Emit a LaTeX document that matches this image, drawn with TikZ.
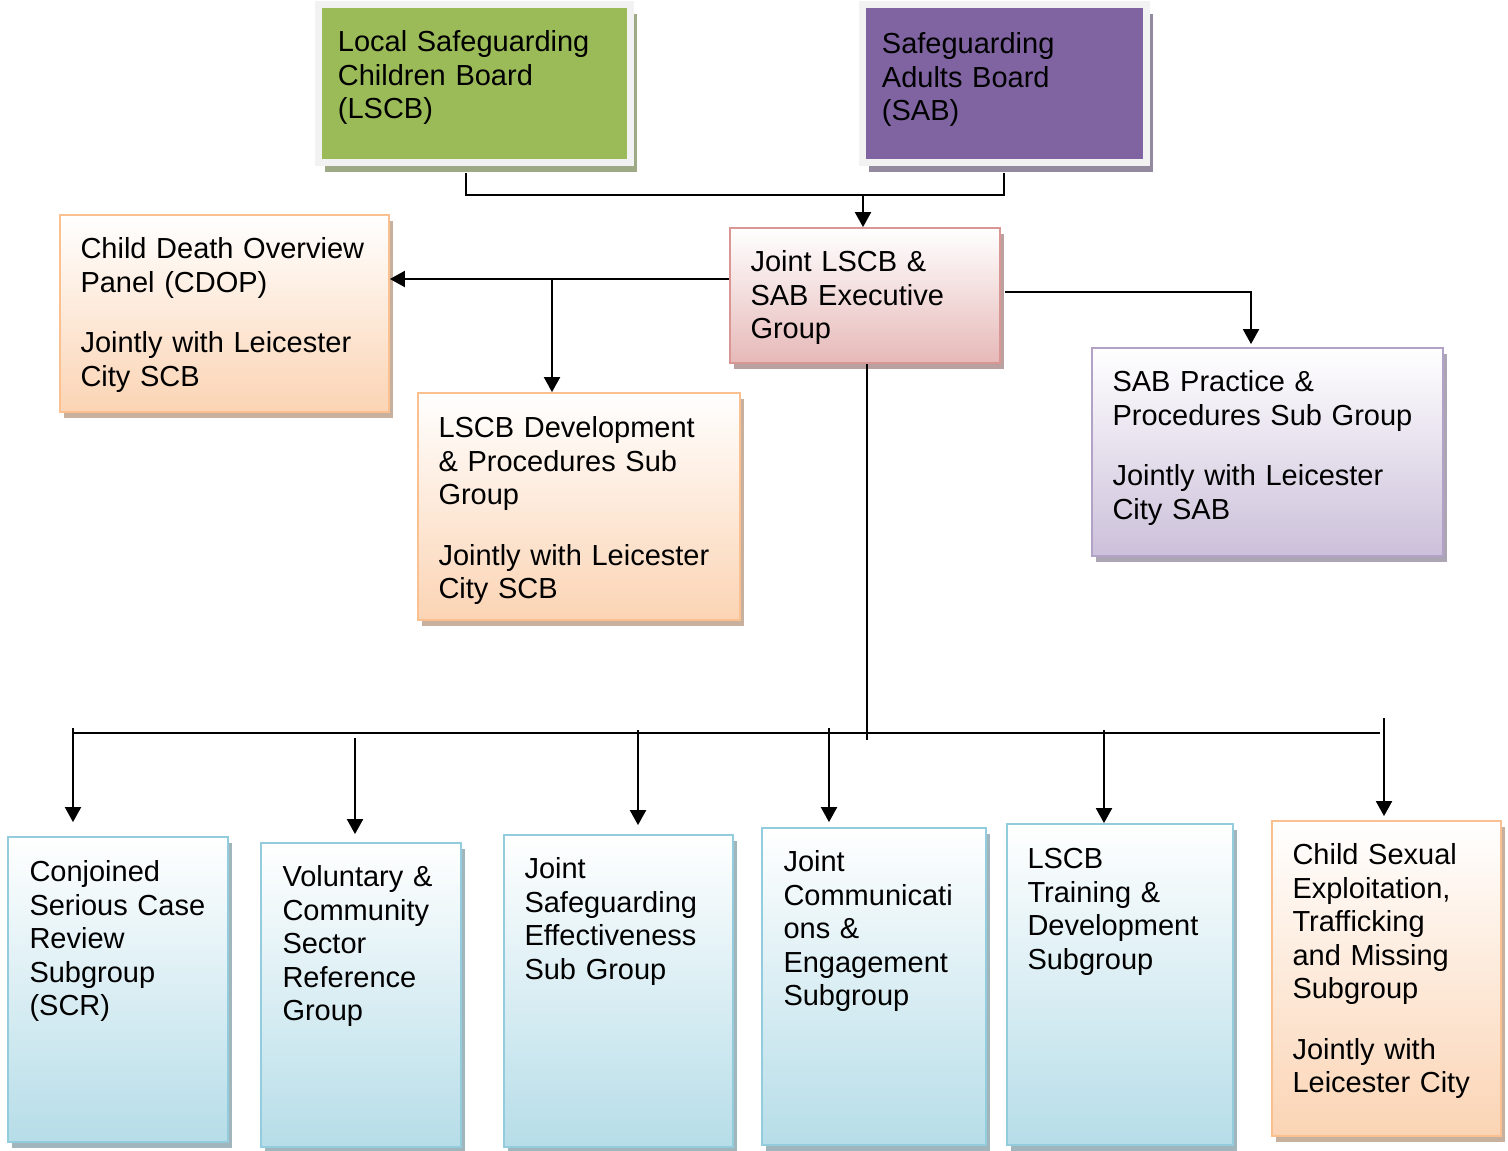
\documentclass[tikz,border=0pt]{standalone}
\usepackage{fontspec}
\setmainfont{Liberation Sans}
\usetikzlibrary{arrows.meta,fit,shadows}

\definecolor{boardgreen}{HTML}{9BBB59}
\definecolor{boardpurple}{HTML}{8064A2}
\definecolor{boardframe}{HTML}{F2F2F2}
\definecolor{pinkline}{HTML}{D99694}
\definecolor{pinkfill}{HTML}{E6B9B8}
\definecolor{peachline}{HTML}{FAC090}
\definecolor{peachfill}{HTML}{FBD4B4}
\definecolor{lilacline}{HTML}{B3A2C7}
\definecolor{lilacfill}{HTML}{CCC0DA}
\definecolor{aqualine}{HTML}{93CDDD}
\definecolor{aquafill}{HTML}{B6DDE8}

\tikzset{
  box/.style={inner sep=0pt, line width=0.9pt, draw=#1,
    general shadow={shadow xshift=2pt, shadow yshift=-3pt, fill=#1!65!black, opacity=0.6}},
  board/.style={inner sep=0pt, draw=boardframe, line width=3.5pt, fill=#1,
    general shadow={shadow xshift=3.5pt, shadow yshift=-4.5pt, fill=#1!60!black, opacity=0.6}},
  pinkbox/.style={box=pinkline, top color=white, bottom color=pinkfill},
  peachbox/.style={box=peachline, top color=white, bottom color=peachfill},
  lilacbox/.style={box=lilacline, top color=white, bottom color=lilacfill},
  aquabox/.style={box=aqualine, top color=white, bottom color=aquafill},
  txt/.style={anchor=north west, align=left, text width=200pt, inner ysep=0pt,
    inner xsep=10.5pt, text height=22pt, font=\fontsize{14.5pt}{16.75pt}\selectfont},
  arr/.style={line width=1pt, -{Triangle[length=7.5pt,width=8pt]}},
  ln/.style={line width=1pt}
}

\begin{document}
\begin{tikzpicture}[x=0.5pt,y=-0.5pt]
        \useasboundingbox (0,0) rectangle (1508,1150);

        \node[board=boardgreen, fit={(318,5) (630,163)}] (lscb) {};
        \node[txt, inner xsep=11.5pt, text height=25pt] (lscbtext) at (lscb.north west) {Local Safeguarding\\Children Board\\(LSCB)};
        \node[board=boardpurple, fit={(862,5) (1146,163)}] (sab) {};
        \node[txt, inner xsep=11.5pt, text height=26pt] (sabtext) at (sab.north west) {Safeguarding\\Adults Board\\(SAB)};

        \node[pinkbox, fit={(730,228) (1000,363)}] (exec) {};
        \node[txt] (exectext) at (exec.north west) {Joint LSCB \&\\SAB Executive\\Group};

        \node[peachbox, fit={(60,215) (389,412)}] (cdop) {};
        \node[txt] (cdoptext) at (cdop.north west) {Child Death Overview\\Panel (CDOP)\\[13.5pt]Jointly with Leicester\\City SCB};
        \node[peachbox, fit={(418,393) (740,620)}] (dev) {};
        \node[txt, text height=22.5pt] (devtext) at (dev.north west) {LSCB Development\\\& Procedures Sub\\Group\\[13.5pt]Jointly with Leicester\\City SCB};
        \node[lilacbox, fit={(1092,348) (1443,556)}] (sabpp) {};
        \node[txt] (sabpptext) at (sabpp.north west) {SAB Practice \&\\Procedures Sub Group\\[13.5pt]Jointly with Leicester\\City SAB};

        \node[aquabox, fit={(8,837) (228,1142)}] (scr) {};
        \node[txt, inner xsep=11pt, text height=22.5pt] (scrtext) at (scr.north west) {Conjoined\\Serious Case\\Review\\Subgroup\\(SCR)};
        \node[aquabox, fit={(261,843) (461,1147)}] (vcs) {};
        \node[txt, inner xsep=11pt] (vcstext) at (vcs.north west) {Voluntary \&\\Community\\Sector\\Reference\\Group};
        \node[aquabox, fit={(504,835) (733,1147)}] (jse) {};
        \node[txt] (jsetext) at (jse.north west) {Joint\\Safeguarding\\Effectiveness\\Sub Group};
        \node[aquabox, fit={(762,828) (986,1145)}] (jce) {};
        \node[txt, inner xsep=11pt] (jcetext) at (jce.north west) {Joint\\Communicati\\ons \&\\Engagement\\Subgroup};
        \node[aquabox, fit={(1007,824) (1233,1145)}] (ltd) {};
        \node[txt, text height=22.5pt] (ltdtext) at (ltd.north west) {LSCB\\Training \&\\Development\\Subgroup};
        \node[peachbox, fit={(1272,821) (1501,1136)}] (cse) {};
        \node[txt] (csetext) at (cse.north west) {Child Sexual\\Exploitation,\\Trafficking\\and Missing\\Subgroup\\[13.5pt]Jointly with\\Leicester City};

        \coordinate (join) at (863,195);
        \coordinate (split) at (552,279);
        \coordinate (turn) at (1251,292);
        \coordinate (trunk) at (867,733);
        \coordinate (busl) at (73,733);
        \coordinate (busr) at (1380,733);
        \coordinate (a1) at (73,728);
        \coordinate (a2) at (355,738);
        \coordinate (a3) at (638,730);
        \coordinate (a4) at (829,728);
        \coordinate (a5) at (1104,730);
        \coordinate (a6) at (1384,718);

        \draw[ln, shorten <=3.5pt, shorten >=3.5pt] ([xshift=-4pt]lscb.south) |- (join) -| (sab.south);
        \draw[arr] (join) -- (join |- exec.north);
        \draw[arr] (exec.west |- split) -- (cdop.east |- split);
        \draw[arr] (split) -- (split |- dev.north);
        \draw[arr, shorten <=2pt, shorten >=1.5pt] (exec.east |- turn) -| (sabpp.north -| turn);
        \draw[ln] (exec.south -| trunk) -- ([yshift=-3.5pt]trunk);
        \draw[ln] (busl) -- (busr);

        \draw[arr, shorten >=7pt] (a1) -- (a1 |- scr.north);
        \draw[arr, shorten >=4pt] (a2) -- (a2 |- vcs.north);
        \draw[arr, shorten >=4.5pt] (a3) -- (a3 |- jse.north);
        \draw[arr, shorten >=2.5pt] (a4) -- (a4 |- jce.north);
        \draw[arr] (a5) -- (a5 |- ltd.north);
        \draw[arr, shorten >=2pt] (a6) -- (a6 |- cse.north);
\end{tikzpicture}
\end{document}
